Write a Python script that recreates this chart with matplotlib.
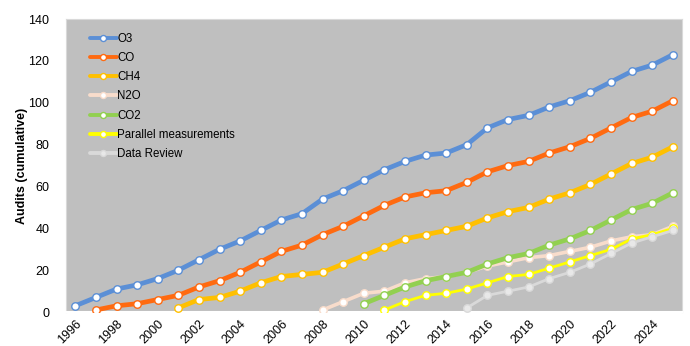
import matplotlib
matplotlib.use("Agg")
import matplotlib.pyplot as plt
import numpy as np

plt.rcParams['font.family'] = ['Liberation Sans', 'DejaVu Sans']

years = list(range(1996, 2026))
o3 = [3, 7, 11, 13, 16, 20, 25, 30, 34, 39, 44, 47, 54, 58, 63, 68, 72, 75, 76, 80,
      88, 92, 94, 98, 101, 105, 110, 115, 118, 123]
co_start = 1997
co = [1, 3, 4, 6, 8, 12, 15, 19, 24, 29, 32, 37, 41, 46, 51, 55, 57, 58, 62, 67,
      70, 72, 76, 79, 83, 88, 93, 96, 101]
ch4_start = 2001
ch4 = [2, 6, 7, 10, 14, 17, 18, 19, 23, 27, 31, 35, 37, 39, 41, 45, 48, 50, 54, 57,
       61, 66, 71, 74, 79]
n2o_start = 2008
n2o = [1, 5, 9, 10, 14, 16, 17, 19, 22, 24, 26, 27, 29, 31, 34, 36, 37, 41]
co2_start = 2010
co2 = [4, 8, 12, 15, 17, 19, 23, 26, 28, 32, 35, 39, 44, 49, 52, 57]
par_start = 2011
parallel = [1, 5, 8, 9, 11, 14, 17, 18, 21, 24, 27, 30, 35, 37, 40]
rev_start = 2015
review = [2, 8, 10, 12, 16, 19, 23, 28, 33, 36, 39]

series = [
    ("O3", co_start - 1, o3, "#5B8FD6", 3.4, "white"),
    ("CO", co_start, co, "#FF6A10", 3.4, "white"),
    ("CH4", ch4_start, ch4, "#FFC000", 3.4, "white"),
    ("N2O", n2o_start, n2o, "#F8DCCB", 2.6, "white"),
    ("CO2", co2_start, co2, "#92D050", 3.4, "white"),
    ("Parallel measurements", par_start, parallel, "#FFFF00", 2.0, "white"),
    ("Data Review", rev_start, review, "#D9D9D9", 2.0, "#E8E8E8"),
]

fig = plt.figure(figsize=(6.9, 3.46), dpi=100)
ax = fig.add_axes([0.0957, 0.098, 0.893, 0.847])
ax.set_facecolor("#BFBFBF")

for name, start, vals, color, lw, mfc in series:
    xs = list(range(start, start + len(vals)))
    ax.plot(xs, vals, color=color, lw=lw, marker="o", markersize=5.4,
            markerfacecolor=mfc, markeredgecolor=color, markeredgewidth=1.0,
            label=name, solid_capstyle="round", zorder=3)

ax.set_xlim(1995.55, 2025.45)
ax.set_ylim(0, 140)
ax.set_yticks(np.arange(0, 141, 20))
ax.set_xticks(years[::2])
ax.set_xticklabels([str(y) for y in years[::2]], rotation=45, ha="right",
                   rotation_mode="anchor", fontsize=9)
ax.tick_params(axis="y", length=0, labelsize=9, pad=12)
ax.tick_params(axis="x", length=0, pad=4)
ax.set_ylabel("Audits (cumulative)", fontsize=9, fontweight="bold", labelpad=0)

for s in ["top", "right", "left"]:
    ax.spines[s].set_color("#D9D9D9")
    ax.spines[s].set_linewidth(0.8)
ax.spines["bottom"].set_color("white")
ax.spines["bottom"].set_linewidth(1.5)

leg = ax.legend(loc="upper left", bbox_to_anchor=(0.025, 0.98), frameon=False,
                fontsize=8.3, handlelength=2.4, handletextpad=0.0,
                labelspacing=0.62, borderaxespad=0.3, markerscale=0.8)
for h in leg.get_lines():
    h.set_linewidth(2.8)

fig.savefig("out.png", dpi=100)
